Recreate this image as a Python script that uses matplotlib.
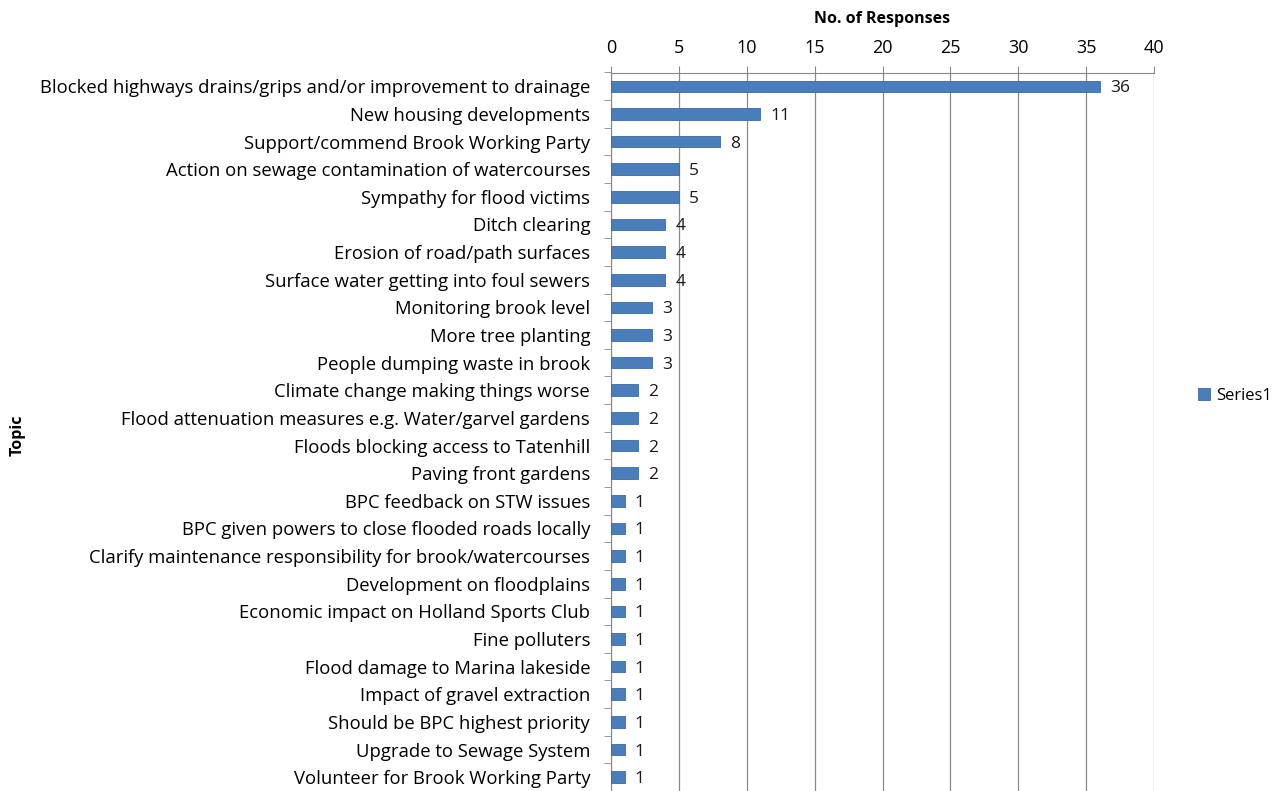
import matplotlib.pyplot as plt
import numpy as np

topics = [
    "Blocked highways drains/grips and/or improvement to drainage",
    "New housing developments",
    "Support/commend Brook Working Party",
    "Action on sewage contamination of watercourses",
    "Sympathy for flood victims",
    "Ditch clearing",
    "Erosion of road/path surfaces",
    "Surface water getting into foul sewers",
    "Monitoring brook level",
    "More tree planting",
    "People dumping waste in brook",
    "Climate change making things worse",
    "Flood attenuation measures e.g. Water/garvel gardens",
    "Floods blocking access to Tatenhill",
    "Paving front gardens",
    "BPC feedback on STW issues",
    "BPC given powers to close flooded roads locally",
    "Clarify maintenance responsibility for brook/watercourses",
    "Development on floodplains",
    "Economic impact on Holland Sports Club",
    "Fine polluters",
    "Flood damage to Marina lakeside",
    "Impact of gravel extraction",
    "Should be BPC highest priority",
    "Upgrade to Sewage System",
    "Volunteer for Brook Working Party",
]
responses = [36, 11, 8, 5, 5, 4, 4, 4, 3, 3, 3, 2, 2, 2, 2,
             1, 1, 1, 1, 1, 1, 1, 1, 1, 1, 1]
x_ticks = [0, 5, 10, 15, 20, 25, 30, 35, 40]

plt.rcParams['font.family'] = ['Open Sans', 'DejaVu Sans']

fig = plt.figure(figsize=(12.8, 7.91), dpi=100)
n = len(topics)
top = 1 - 72.5 / 791
ax = fig.add_axes([611 / 1280, 0.0, (1154 - 611) / 1280, top])

pos = np.arange(n)
bars = ax.barh(pos, responses, height=0.42, color='#4a7ebb',
               edgecolor='#3a6aa5', linewidth=0.6, label='Series1', zorder=3)
# value labels next to each bar
for p, v in zip(pos, responses):
    ax.text(v + 0.75, p, str(v), va='center_baseline', ha='left',
            fontsize=12.5, color='#1a1a1a')

ax.set_ylim(n - 0.5, -0.5)
ax.set_xlim(0, 40)
ax.set_yticks(pos)
ax.set_yticklabels(topics, fontsize=13.3)
ax.set_yticks(np.arange(-0.5, n, 1), minor=True)
ax.tick_params(axis='y', which='major', length=0, pad=15)
ax.tick_params(axis='y', which='minor', length=5, color='#888888')

ax.xaxis.tick_top()
ax.xaxis.set_label_position('top')
ax.set_xticks(x_ticks)
ax.tick_params(axis='x', length=5, color='#888888', labelsize=13, pad=6)
ax.set_xlabel('No. of Responses', fontsize=11.5, fontweight='bold', labelpad=12)
ax.grid(axis='x', color='#8c8c8c', linewidth=0.9, zorder=0)

for s in ['bottom', 'right']:
    ax.spines[s].set_visible(False)
ax.spines['left'].set_color('#888888')
ax.spines['top'].set_color('#888888')

fig.text(18 / 1280, 1 - 435 / 791, 'Topic', rotation=90, va='center', ha='center',
         fontsize=11.5, fontweight='bold')

fig.legend(handles=[bars], labels=['Series1'], loc='center left',
           bbox_to_anchor=(1198 / 1280, 1 - 396 / 791), frameon=False,
           borderaxespad=0, borderpad=0,
           fontsize=12, handlelength=0.7, handleheight=0.7, handletextpad=0.4)

fig.savefig('out.png', dpi=100)
